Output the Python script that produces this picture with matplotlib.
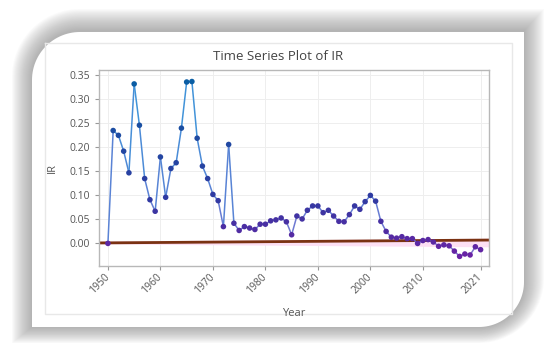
import numpy as np
import matplotlib
matplotlib.use('Agg')
import matplotlib.pyplot as plt
from matplotlib.patches import Polygon
from matplotlib.collections import LineCollection
from matplotlib.colors import LinearSegmentedColormap, Normalize

plt.rcParams['font.family'] = ['Open Sans', 'DejaVu Sans']

# data
years = list(range(1950, 2022))
ir = [-0.001, 0.234, 0.224, 0.191, 0.146, 0.331, 0.245, 0.134, 0.090, 0.066,
      0.179, 0.095, 0.155, 0.167, 0.239, 0.335, 0.336, 0.218, 0.160, 0.134,
      0.101, 0.088, 0.034, 0.205, 0.041, 0.026, 0.034, 0.031, 0.028, 0.039,
      0.039, 0.046, 0.048, 0.052, 0.044, 0.017, 0.056, 0.050, 0.068, 0.077,
      0.077, 0.063, 0.068, 0.056, 0.045, 0.044, 0.059, 0.077, 0.070, 0.086,
      0.099, 0.087, 0.045, 0.024, 0.012, 0.010, 0.013, 0.009, 0.009, -0.001,
      0.005, 0.007, 0.002, -0.007, -0.004, -0.006, -0.017, -0.028, -0.023, -0.025,
      -0.008, -0.014]
trend_x = [1948.3, 2022.6]
trend_y = [0.000, 0.006]
band_lo = [-0.002, -0.008]
band_hi = [0.004, 0.010]
xticks = [1950, 1960, 1970, 1980, 1990, 2000, 2010, 2021]
yticks = [0.00, 0.05, 0.10, 0.15, 0.20, 0.25, 0.30, 0.35]

fig = plt.figure(figsize=(5.5, 3.6), dpi=100)
fig.patch.set_facecolor('white')

# decorative card behind the chart
bg = fig.add_axes([0, 0, 1, 1], zorder=0)
bg.set_xlim(0, 550)
bg.set_ylim(360, 0)
bg.axis('off')


def card(x0, y0, x1, y1, r1, r2):
    t = np.linspace(0, np.pi / 2, 30)
    tl = np.column_stack([x0 + r1 - r1 * np.cos(t), y0 + r1 - r1 * np.sin(t)])
    br = np.column_stack([x1 - r2 + r2 * np.cos(t), y1 - r2 + r2 * np.sin(t)])
    pts = np.vstack([tl, [[x1, y0]], br, [[x0, y1]]])
    return pts


for d in range(20, 0, -1):
    bg.add_patch(Polygon(card(32 - d, 31 - d * 1.1, 524 + d, 327 + d * 0.8, 48 + d, 45 + d),
                         closed=True, facecolor='#707070', edgecolor='none', alpha=0.03))
bg.add_patch(Polygon(card(32, 32, 524, 327, 48, 45), closed=True,
                     facecolor='white', edgecolor='none'))
bg.plot([45, 512, 512, 45, 45], [43, 43, 314, 314, 43], color='#e8e8e8', lw=1)

# chart
ax = fig.add_axes([99 / 550, 1 - 266 / 360, 390 / 550, 196 / 360], zorder=1)
ax.set_facecolor('white')

ax.fill_between(trend_x, band_lo, band_hi, color='#fde0f4', lw=0, zorder=1)
ax.plot(trend_x, trend_y, color='#7a3212', lw=2, zorder=2)

pts_cmap = LinearSegmentedColormap.from_list('pts', ['#6a22a4', '#2f3aa2', '#1f4aa2', '#0a5ea4'])
line_cmap = LinearSegmentedColormap.from_list('ln', ['#7f70d0', '#5088d6', '#3b98da'])
norm = Normalize(-0.03, 0.34)

xy = np.column_stack([years, ir])
segs = np.stack([xy[:-1], xy[1:]], axis=1)
mids = (np.array(ir[:-1]) + np.array(ir[1:])) / 2
ax.add_collection(LineCollection(segs, colors=line_cmap(norm(mids)), linewidths=1.1, zorder=3))
ax.scatter(years, ir, s=16, c=pts_cmap(norm(np.array(ir))), zorder=4, linewidths=0)

ax.set_xlim(1948.3, 2022.6)
ax.set_ylim(-0.048, 0.36)
ax.set_xticks(xticks)
ax.set_xticklabels([str(v) for v in xticks], rotation=45, ha='right', va='center',
                   rotation_mode='anchor')
ax.set_yticks(yticks)
ax.set_yticklabels(['%.2f' % v for v in yticks])
ax.tick_params(labelsize=7.5, colors='#555555', length=3, width=0.8, color='#999999')
ax.tick_params(axis='x', pad=4)
ax.grid(True, color='#eeeeee', lw=0.7)
ax.set_axisbelow(True)
for s in ax.spines.values():
    s.set_color('#b8b8b8')
    s.set_linewidth(1)

ax.set_ylabel('IR', fontsize=8, color='#555555', labelpad=8)
ax.set_xlabel('Year', fontsize=8, color='#555555', labelpad=8)
fig.text(278 / 550, 1 - 57 / 360, 'Time Series Plot of IR', ha='center', va='center',
         fontsize=9.5, color='#444444')

fig.savefig('out.png', dpi=100)
